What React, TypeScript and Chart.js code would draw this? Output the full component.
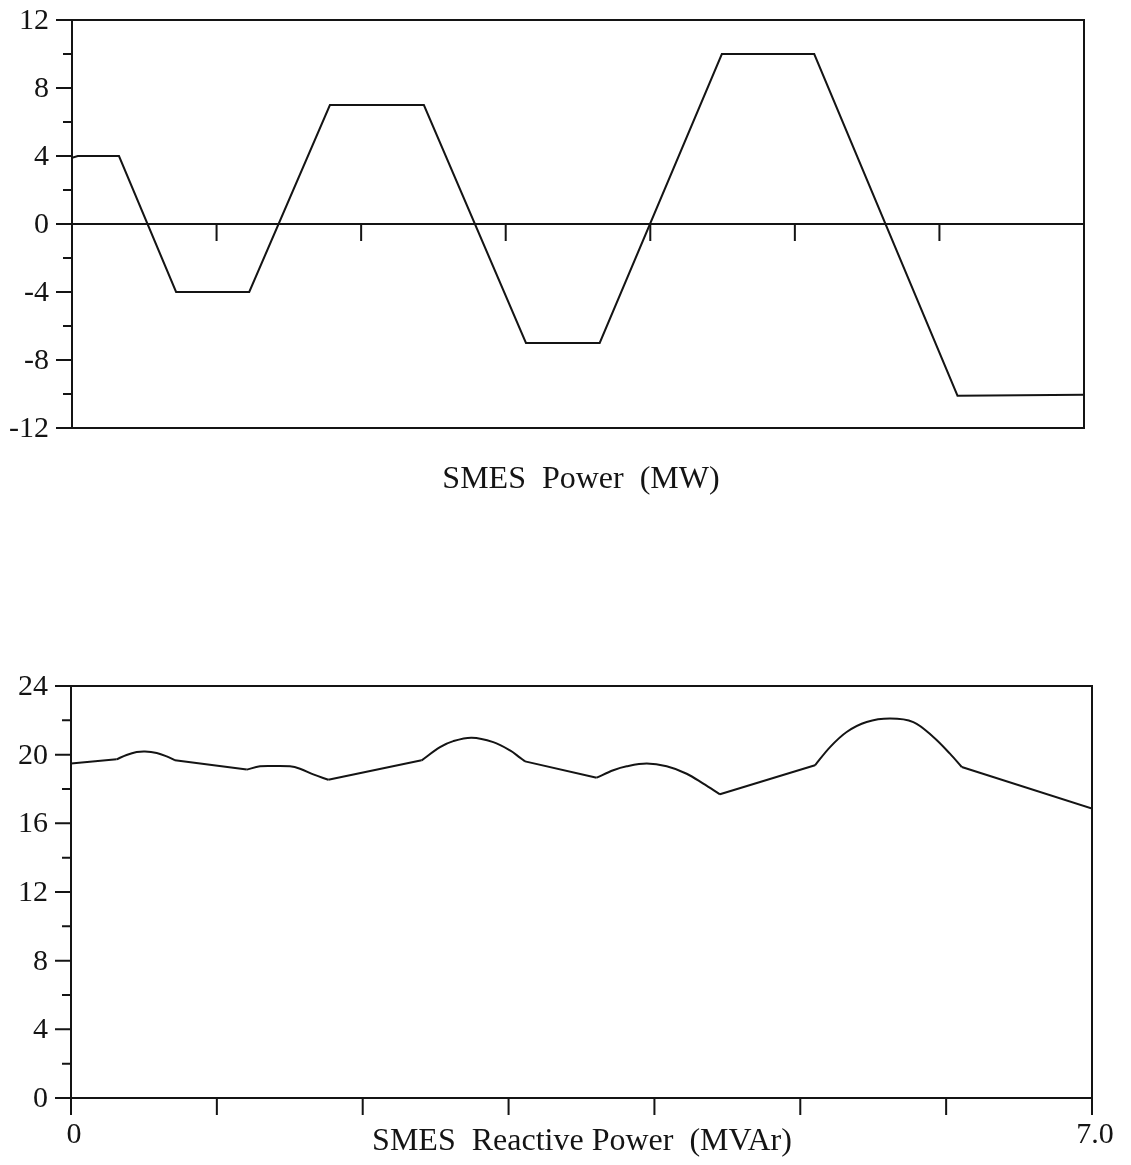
import React, { useEffect, useRef } from "react";
import { Chart, registerables } from "chart.js";

Chart.register(...registerables);

// SMES active power (MW) against time (s)
const powerTime = [0, 0.04, 0.325, 0.72, 1.226, 1.784, 2.434, 3.14, 3.65, 4.495, 5.134, 6.125, 7.0];
const powerMW = [3.9, 4.0, 4.0, -4.0, -4.0, 7.0, 7.0, -7.0, -7.0, 10.0, 10.0, -10.1, -10.05];

// SMES reactive power (MVAr) against time (s)
const reactiveTime = [
  0, 0.313, 0.381, 0.45, 0.507, 0.588, 0.656, 0.713,
  1.205, 1.296, 1.387, 1.501, 1.57, 1.661, 1.764,
  2.404, 2.53, 2.621, 2.747, 2.895, 3.01, 3.078, 3.113,
  3.604, 3.718, 3.81, 3.947, 4.084, 4.221, 4.335, 4.449,
  5.101, 5.204, 5.318, 5.455, 5.615, 5.775, 5.912, 6.026, 6.107,
  7.0,
];
const reactiveMVAr = [
  19.48, 19.73, 19.98, 20.15, 20.19, 20.1, 19.9, 19.67,
  19.13, 19.32, 19.34, 19.32, 19.18, 18.85, 18.54,
  19.67, 20.44, 20.79, 20.99, 20.73, 20.25, 19.83, 19.61,
  18.66, 19.09, 19.32, 19.48, 19.32, 18.89, 18.31, 17.69,
  19.38, 20.44, 21.32, 21.9, 22.1, 21.9, 21.03, 20.06, 19.28,
  16.86,
];
// Index ranges of the reactive trace drawn as smooth arcs (during the power ramps);
// the rest is joined with straight segments.
const reactiveArcRanges = [
  [1, 7],
  [8, 14],
  [15, 22],
  [23, 30],
  [31, 39],
];

// Axis ticks and labels
const powerMajorTicks = [-12, -8, -4, 0, 4, 8, 12];
const powerMinorTicks = [-10, -6, -2, 2, 6, 10];
const reactiveMajorTicks = [0, 4, 8, 12, 16, 20, 24];
const reactiveMinorTicks = [2, 6, 10, 14, 18, 22];
const powerTimeTicks = [1, 2, 3, 4, 5, 6];
const reactiveTimeTicks = [0, 1, 2, 3, 4, 5, 6, 7];
const timeLabelValues = [0, 7];
const timeLabelTexts = ["0", "7.0"];

const powerTitle = "SMES  Power  (MW)";
const reactiveTitle = "SMES  Reactive Power  (MVAr)";

const INK = "#141414";
const TICK_FONT = '30px "Liberation Serif", "Times New Roman", serif';
const TITLE_FONT = '32px "Liberation Serif", "Times New Roman", serif';

type AxisSpec = {
  yMajor: number[];
  yMinor: number[];
  xTicks: number[];
  xTicksFromZero: boolean;
  zeroLine: boolean;
  xLabelValues: number[];
  xLabelTexts: string[];
  title: string;
  titleX: number;
  titleY: number;
};

function framePlugin(spec: AxisSpec) {
  return {
    id: "frameAxes",
    afterDraw(chart: any) {
      const { ctx, chartArea: a, scales } = chart;
      const x = scales.x;
      const y = scales.y;
      ctx.save();
      ctx.strokeStyle = INK;
      ctx.fillStyle = INK;
      ctx.lineWidth = 2;
      ctx.lineCap = "butt";

      ctx.strokeRect(a.left, a.top, a.right - a.left, a.bottom - a.top);

      ctx.beginPath();
      spec.yMajor.forEach((v) => {
        const py = y.getPixelForValue(v);
        ctx.moveTo(a.left - 16, py);
        ctx.lineTo(a.left, py);
      });
      spec.yMinor.forEach((v) => {
        const py = y.getPixelForValue(v);
        ctx.moveTo(a.left - 9, py);
        ctx.lineTo(a.left, py);
      });
      const base = spec.xTicksFromZero ? y.getPixelForValue(0) : a.bottom;
      spec.xTicks.forEach((v) => {
        const px = x.getPixelForValue(v);
        ctx.moveTo(px, base);
        ctx.lineTo(px, base + 17);
      });
      if (spec.zeroLine) {
        const y0 = y.getPixelForValue(0);
        ctx.moveTo(a.left, y0);
        ctx.lineTo(a.right, y0);
      }
      ctx.stroke();

      ctx.font = TICK_FONT;
      ctx.textAlign = "right";
      ctx.textBaseline = "alphabetic";
      spec.yMajor.forEach((v) => {
        ctx.fillText(String(v), a.left - 23, y.getPixelForValue(v) + 9);
      });

      ctx.textAlign = "center";
      spec.xLabelValues.forEach((v, i) => {
        ctx.fillText(spec.xLabelTexts[i], x.getPixelForValue(v) + 3, a.bottom + 45);
      });

      ctx.font = TITLE_FONT;
      ctx.textAlign = "center";
      ctx.fillText(spec.title, spec.titleX, spec.titleY);
      ctx.restore();
    },
  };
}

function lineDataset(points: { x: number; y: number }[], smooth: boolean) {
  return {
    data: points,
    borderColor: INK,
    borderWidth: 2,
    pointRadius: 0,
    tension: smooth ? 0.35 : 0,
    fill: false,
  };
}

function makeChart(
  canvas: HTMLCanvasElement,
  datasets: any[],
  yMin: number,
  yMax: number,
  padding: { left: number; right: number; top: number; bottom: number },
  spec: AxisSpec
) {
  return new Chart(canvas, {
    type: "line",
    data: { datasets },
    options: {
      responsive: false,
      animation: false,
      devicePixelRatio: 1,
      layout: { padding },
      scales: {
        x: { type: "linear", min: 0, max: 7, display: false },
        y: { type: "linear", min: yMin, max: yMax, display: false },
      },
      plugins: { legend: { display: false }, tooltip: { enabled: false } },
    },
    plugins: [framePlugin(spec)],
  } as any);
}

function reactiveDatasets() {
  const pts = reactiveTime.map((t, i) => ({ x: t, y: reactiveMVAr[i] }));
  const sets: any[] = [];
  let prevEnd = 0;
  reactiveArcRanges.forEach(([s, e]) => {
    sets.push(lineDataset(pts.slice(prevEnd, s + 1), false));
    sets.push(lineDataset(pts.slice(s, e + 1), true));
    prevEnd = e;
  });
  sets.push(lineDataset(pts.slice(prevEnd), false));
  return sets;
}

export default function App() {
  const topRef = useRef<HTMLCanvasElement | null>(null);
  const bottomRef = useRef<HTMLCanvasElement | null>(null);

  useEffect(() => {
    if (!topRef.current || !bottomRef.current) return;
    const top = makeChart(
      topRef.current,
      [lineDataset(powerTime.map((t, i) => ({ x: t, y: powerMW[i] })), false)],
      -12,
      12,
      { left: 72, right: 47, top: 20, bottom: 172 },
      {
        yMajor: powerMajorTicks,
        yMinor: powerMinorTicks,
        xTicks: powerTimeTicks,
        xTicksFromZero: true,
        zeroLine: true,
        xLabelValues: [],
        xLabelTexts: [],
        title: powerTitle,
        titleX: 581,
        titleY: 488,
      }
    );
    const bottom = makeChart(
      bottomRef.current,
      reactiveDatasets(),
      0,
      24,
      { left: 71, right: 39, top: 86, bottom: 67 },
      {
        yMajor: reactiveMajorTicks,
        yMinor: reactiveMinorTicks,
        xTicks: reactiveTimeTicks,
        xTicksFromZero: false,
        zeroLine: false,
        xLabelValues: timeLabelValues,
        xLabelTexts: timeLabelTexts,
        title: reactiveTitle,
        titleX: 582,
        titleY: 550,
      }
    );
    return () => {
      top.destroy();
      bottom.destroy();
    };
  }, []);

  return (
    <div style={{ position: "absolute", left: 0, top: 0, width: 1131, height: 1165, background: "#fff" }}>
      <canvas
        ref={topRef}
        width={1131}
        height={600}
        style={{ position: "absolute", left: 0, top: 0, width: 1131, height: 600 }}
      />
      <canvas
        ref={bottomRef}
        width={1131}
        height={565}
        style={{ position: "absolute", left: 0, top: 600, width: 1131, height: 565 }}
      />
    </div>
  );
}
